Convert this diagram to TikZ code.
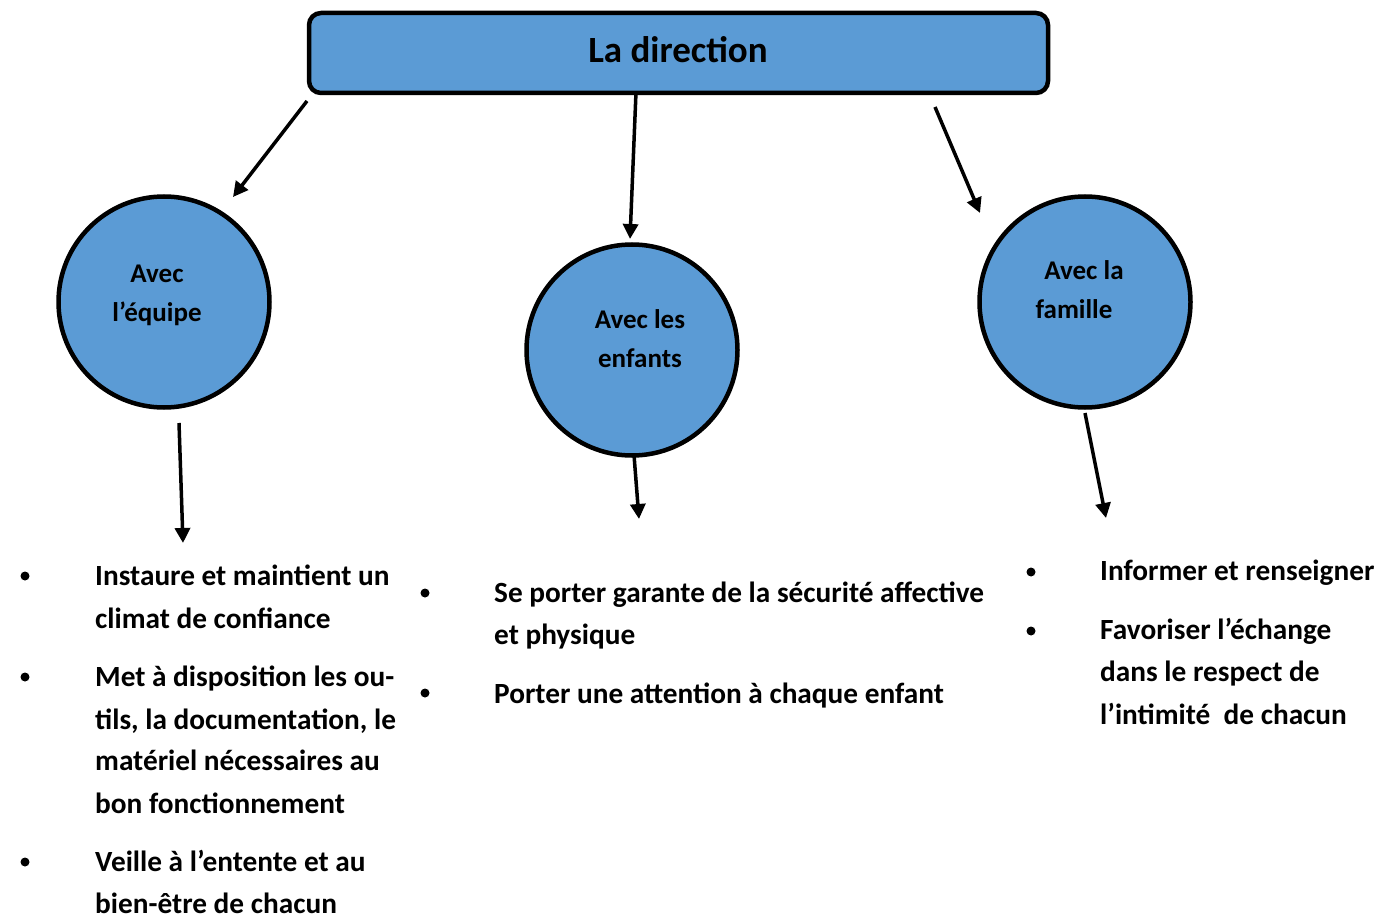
\documentclass[tikz,border=0pt]{standalone}
\usepackage{fontspec}
\setmainfont{Carlito}
\usetikzlibrary{arrows.meta}
\definecolor{boxblue}{HTML}{5B9BD5}
\begin{document}
\begin{tikzpicture}[x=1pt,y=-1pt,
  bluebox/.style={draw=black,line width=4.5pt,fill=boxblue,rounded corners=12pt},
  bluecircle/.style={draw=black,line width=4.5pt,fill=boxblue,circle,minimum size=211pt,inner sep=0pt},
  conn/.style={line width=3.5pt,-{Triangle[length=15pt,width=15pt]}},
  circtext/.style={anchor=base,font=\bfseries\fontsize{27}{32}\selectfont,inner sep=0pt},
  itemtext/.style={anchor=base west,font=\bfseries\fontsize{29.3}{43}\selectfont,inner sep=0pt},
  bulletdot/.style={fill=black,circle,minimum size=9pt,inner sep=0pt}
]
\useasboundingbox (0,0) rectangle (1386,920);
\fill[white] (0,0) rectangle (1386,920);

% top box
\draw[bluebox] (309,13) rectangle (1048,93);
\node[anchor=base,font=\bfseries\fontsize{37}{42}\selectfont,inner sep=0pt] (dir) at (678,63) {La direction};

% circles
\node[bluecircle] (equipe) at (164,302) {};
\node[bluecircle] (enfants) at (632,350) {};
\node[bluecircle] (famille) at (1085,302) {};

\node[circtext] (t1a) at (157,282) {Avec};
\node[circtext] (t1b) at (157,321) {l’équipe};
\node[circtext] (t2a) at (640,328) {Avec les};
\node[circtext] (t2b) at (640,367) {enfants};
\node[circtext] (t3a) at (1084,279) {Avec la};
\node[circtext] (t3b) at (1074,318) {famille};

% connector coordinates
\coordinate (a1s) at (307,101);
\coordinate (a1e) at (233,197);
\coordinate (a2s) at (636,92);
\coordinate (a2e) at (630,239);
\coordinate (a3s) at (935,107);
\coordinate (a3e) at (980,213);
\coordinate (a4s) at (179,423);
\coordinate (a4e) at (183,543);
\coordinate (a5s) at (634,455);
\coordinate (a5e) at (639,519);
\coordinate (a6s) at (1085,413);
\coordinate (a6e) at (1106,518);

\draw[conn] (a1s) -- (a1e);
\draw[conn] (a2s) -- (a2e);
\draw[conn] (a3s) -- (a3e);
\draw[conn] (a4s) -- (a4e);
\draw[conn] (a5s) -- (a5e);
\draw[conn] (a6s) -- (a6e);

% left list
\node[bulletdot] (b1) at (25,576) {};
\node[bulletdot] (b2) at (25,677) {};
\node[bulletdot] (b3) at (25,862) {};
\node[itemtext] (l1) at (95,585) {Instaure et maintient un};
\node[itemtext] (l2) at (95,628) {climat de confiance};
\node[itemtext] (l3) at (95,686) {Met à disposition les ou-};
\node[itemtext] (l4) at (95,729) {tils, la documentation, le};
\node[itemtext] (l5) at (95,770) {matériel nécessaires au};
\node[itemtext] (l6) at (95,813) {bon fonctionnement};
\node[itemtext] (l7) at (95,871) {Veille à l’entente et au};
\node[itemtext] (l8) at (95,913) {bien-être de chacun};

% middle list
\node[bulletdot] (b4) at (425,593) {};
\node[bulletdot] (b5) at (425,693) {};
\node[itemtext] (m1) at (494,602) {Se porter garante de la sécurité affective};
\node[itemtext] (m2) at (494,644) {et physique};
\node[itemtext] (m3) at (494,703) {Porter une attention à chaque enfant};

% right list
\node[bulletdot] (b6) at (1031,572) {};
\node[bulletdot] (b7) at (1031,631) {};
\node[itemtext] (r1) at (1100,580) {Informer et renseigner};
\node[itemtext] (r2) at (1100,639) {Favoriser l’échange};
\node[itemtext] (r3) at (1100,681) {dans le respect de};
\node[itemtext] (r4) at (1100,724) {l’intimité\ \ de chacun};
\end{tikzpicture}
\end{document}
